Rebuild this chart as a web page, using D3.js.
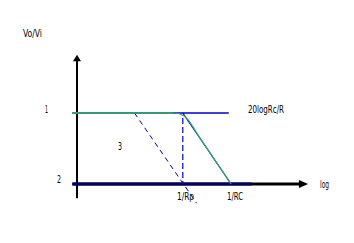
<!DOCTYPE html>
<html>
<head>
<meta charset="utf-8">
<script src="https://cdn.jsdelivr.net/npm/d3@7"></script>
<style>
  body { margin: 0; background: #fff; }
  text { font-family: "Liberation Sans Narrow", "DejaVu Sans Condensed", "Liberation Sans", sans-serif; fill: #000; }
</style>
</head>
<body>
<div id="chart"></div>
<script>
var svgWidth = 354;
var svgHeight = 243;

// x in log-frequency units, y in gain units (level "2" = 0, level "1" = 1)
var breakRp = 46;   // 1/Rp
var breakRC = 67;   // 1/RC

var topLine = [[-2, 1], [66, 1]];
var asymptote = [[breakRp, 1], [breakRC, 0]];
var parallelDashed = [[25, 1], [52, -0.27]];
var verticalDashed = [[breakRp, 0.93], [breakRp, 0]];
var greenFlat = [[-2, 1], [42, 1]];
var greenCurve = [[42, 1], [44.5, 0.99], [46.5, 0.96], [48.5, 0.9], [50.5, 0.8], [53, 0.67], [67, 0]];
var xAxisBlue = [[-2, 0], [76, 0]];

var labelTexts = ["Vo/Vi", "1", "2", "3", "20logRc/R", "1/Rp", "1/RC", "log"];

var svg = d3.select("#chart").append("svg")
  .attr("width", svgWidth)
  .attr("height", svgHeight);

var x = d3.scaleLinear().domain([0, 100]).range([77, 307]);
var y = d3.scaleLinear().domain([0, 1]).range([184, 113]);

var line = d3.line().x(d => x(d[0])).y(d => y(d[1]));

// axes
svg.append("line")
  .attr("x1", x(0)).attr("x2", x(0))
  .attr("y1", y(-0.2)).attr("y2", y(1.75))
  .attr("stroke", "#000").attr("stroke-width", 2);
svg.append("path")
  .attr("d", `M${x(0) - 4},${y(1.73)} L${x(0)},${y(1.82)} L${x(0) + 4},${y(1.73)} Z`)
  .attr("fill", "#000");

svg.append("line")
  .attr("x1", x(-2)).attr("x2", x(97))
  .attr("y1", y(0)).attr("y2", y(0))
  .attr("stroke", "#000").attr("stroke-width", 3);
svg.append("path")
  .attr("d", `M${x(96.5)},${y(0) - 4} L${x(100.5)},${y(0)} L${x(96.5)},${y(0) + 4} Z`)
  .attr("fill", "#000");

svg.append("path").attr("d", line(xAxisBlue))
  .attr("fill", "none").attr("stroke", "#000066").attr("stroke-width", 3);

// blue reference lines
svg.append("path").attr("d", line(topLine))
  .attr("fill", "none").attr("stroke", "#0000cc").attr("stroke-width", 1.5);
svg.append("path").attr("d", line(asymptote))
  .attr("fill", "none").attr("stroke", "#000099").attr("stroke-width", 1.2);
svg.append("path").attr("d", line(parallelDashed))
  .attr("fill", "none").attr("stroke", "#000099").attr("stroke-width", 1)
  .attr("stroke-dasharray", "5,4");
svg.append("path").attr("d", line(verticalDashed))
  .attr("fill", "none").attr("stroke", "#0000cc").attr("stroke-width", 1.2)
  .attr("stroke-dasharray", "6,3");

// green response
svg.append("path").attr("d", line(greenFlat))
  .attr("fill", "none").attr("stroke", "#339977").attr("stroke-width", 2);
svg.append("path").attr("d", line(greenCurve))
  .attr("fill", "none").attr("stroke", "#33aa77").attr("stroke-width", 1.2);

// labels: pixel position and width for each text
var labelPos = [[23, 37, 19], [45, 113, 3], [57, 183, 4], [118, 150, 4],
                [248, 113, 36], [177, 200, 17], [227, 200, 16], [320, 188, 9]];

svg.selectAll("text.lbl")
  .data(labelTexts)
  .enter()
  .append("text")
  .attr("class", "lbl")
  .attr("x", (d, i) => labelPos[i][0])
  .attr("y", (d, i) => labelPos[i][1])
  .attr("font-size", 10)
  .attr("textLength", (d, i) => labelPos[i][2])
  .attr("lengthAdjust", "spacingAndGlyphs")
  .text(d => d);
</script>
</body>
</html>
